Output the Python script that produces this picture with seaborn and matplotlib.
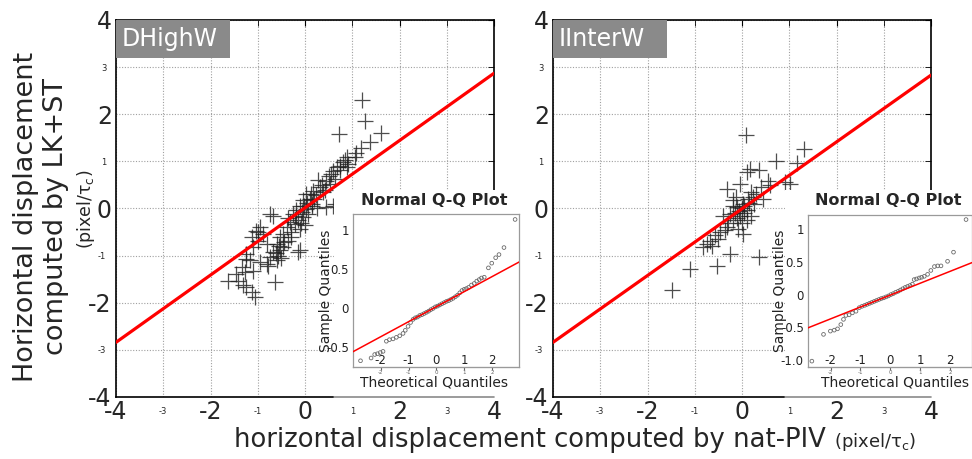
import numpy as np
import pandas as pd
import matplotlib
matplotlib.use('Agg')
import matplotlib.pyplot as plt
import seaborn as sns
from matplotlib.patches import Rectangle
from matplotlib.lines import Line2D

# ---------------- data ----------------
panel_names = ['DHighW', 'IInterW']

left_x = [1.21, 1.28, 1.60, 0.73, 1.37, 1.18, 1.07, 1.05, 0.84, 0.91, 0.74, 0.88, 0.88, 0.81, 0.67, 0.74,
          0.56, 0.63, 0.45, 0.52, 0.31, 0.17, 0.38, 0.03, 0.24, 0.10, -0.04, 0.14, -0.11, 0.03, -0.18, -0.07,
          -0.25, 0.07, -0.04, -0.15, -0.32, -0.22, -0.39, -0.11, -0.29, -0.46, -0.53, -0.36, -0.60, -0.46,
          -0.53, -0.67, -0.57, -0.74, -0.15, -0.60, -0.96, -0.74, -1.03, -0.89, -1.13, -0.99, -1.10, -1.24,
          -1.17, -0.96, -1.34, -1.27, -1.45, -1.63, -1.41, -1.31, -1.24, -1.13, -1.06, -0.64, -0.78, -0.81,
          -0.67, -0.99, -0.11, -1.10, -0.81, -1.24, 0.59, 0.45, 0.63,
          0.05, -0.02, 0.20, 0.35, 0.42, -0.08, -0.20, 0.12, 0.27, -0.30, -0.45, -0.55, 0.00, 0.15, 0.50,
          -0.62, -0.50, 0.60, 0.25, -0.35]
left_y = [2.31, 1.85, 1.61, 1.59, 1.42, 1.29, 1.17, 1.10, 1.02, 0.95, 0.91, 0.88, 1.09, 0.98, 0.88, 0.81,
          0.74, 0.63, 0.59, 0.52, 0.45, 0.38, 0.35, 0.31, 0.28, 0.21, 0.17, 0.10, 0.06, -0.01, -0.04, -0.08,
          -0.11, -0.11, -0.18, -0.25, -0.29, -0.33, -0.40, -0.43, -0.50, -0.54, -0.61, -0.68, -0.75, -0.82,
          -0.89, -0.93, -1.00, -1.03, -0.93, -1.10, -0.40, -0.11, -0.47, -0.54, -0.61, -0.68, -0.82, -0.96,
          -1.10, -1.14, -1.25, -1.35, -1.39, -1.53, -1.53, -1.63, -1.67, -1.78, -1.88, -1.56, -1.21, -0.75,
          -0.15, -0.50, -0.89, -1.32, -1.17, -1.07, 0.06, 0.03, 0.10,
          0.12, 0.05, 0.20, 0.50, 0.40, -0.30, -0.15, 0.30, 0.60, -0.60, -0.72, -0.80, -0.35, 0.05, 0.70,
          -0.95, -1.05, 0.80, 0.00, -0.20]

right_x = [0.08, 1.31, 0.71, 1.16, 0.17, 0.35, 0.10, 1.01, 0.91, 0.56, -0.32, -0.04, 0.45, 0.24, -0.18,
           0.03, -0.11, 0.10, -0.25, -0.04, -0.40, 0.10, -0.18, -0.32, -0.46, -0.57, -0.68, -0.75, -0.64,
           -0.82, -0.08, 0.03, -0.25, 0.35, -0.52, -1.10, -1.49,
           0.00, 0.05, -0.06, 0.15, -0.15, 0.20, -0.10, 0.30, 0.05, -0.20, 0.40, -0.30, 0.12, -0.50, 0.25,
           -0.35, 0.60, 0.00, -0.12, 0.18]
right_y = [1.55, 1.26, 1.00, 0.96, 0.84, 0.81, 0.77, 0.52, 0.56, 0.59, 0.42, 0.52, 0.21, 0.24, 0.17,
           0.10, 0.03, -0.04, -0.11, -0.15, -0.15, -0.25, -0.25, -0.40, -0.50, -0.57, -0.68, -0.75, -0.79,
           -0.82, -0.43, -0.54, -0.96, -1.03, -1.21, -1.28, -1.74,
           0.00, 0.05, -0.05, 0.12, -0.10, 0.35, -0.20, 0.30, -0.10, 0.05, 0.45, -0.30, 0.20, -0.65, 0.10,
           -0.45, 0.50, -0.30, 0.25, -0.15]

fit_x = [-4.0, 4.0]
left_fit_y = [-2.84, 2.87]
right_fit_y = [-2.84, 2.83]

main_major = [-4, -2, 0, 2, 4]
main_major_labels = ['-4', '-2', '0', '2', '4']
main_minor = [-3, -1, 1, 3]
main_minor_labels = ['-3', '-1', '1', '3']

# Q-Q insets: theoretical vs sample quantiles
qqL_t = [-2.73, -2.35, -2.22, -2.12, -2.02, -1.92, -1.80, -1.69, -1.56, -1.44, -1.32, -1.20, -1.12, -1.02,
         -0.93, -0.84, -0.76, -0.68, -0.60, -0.52, -0.44, -0.36, -0.28, -0.20, -0.12, -0.04, 0.04, 0.12,
         0.20, 0.28, 0.36, 0.44, 0.52, 0.60, 0.68, 0.76, 0.84, 0.92, 1.00, 1.08, 1.16, 1.26, 1.36, 1.45,
         1.54, 1.62, 1.72, 1.87, 1.99, 2.13, 2.25, 2.43, 2.83]
qqL_s = [-0.68, -0.645, -0.60, -0.59, -0.575, -0.56, -0.43, -0.41, -0.40, -0.38, -0.36, -0.33, -0.29, -0.24,
         -0.19, -0.15, -0.13, -0.12, -0.10, -0.09, -0.075, -0.06, -0.045, -0.025, -0.01, 0.01, 0.02, 0.035,
         0.05, 0.065, 0.08, 0.09, 0.105, 0.12, 0.14, 0.16, 0.19, 0.22, 0.235, 0.245, 0.26, 0.29, 0.31, 0.34,
         0.36, 0.38, 0.39, 0.51, 0.57, 0.64, 0.68, 0.77, 1.13]
qqL_line_x = [-3.0, 3.0]
qqL_line_y = [-0.564, 0.59]

qqR_t = [-2.63, -2.24, -2.01, -1.88, -1.77, -1.66, -1.57, -1.49, -1.38, -1.27, -1.15, -1.04, -0.95, -0.86,
         -0.78, -0.70, -0.62, -0.54, -0.46, -0.38, -0.30, -0.22, -0.14, -0.06, 0.02, 0.10, 0.18, 0.26, 0.34,
         0.42, 0.50, 0.58, 0.66, 0.74, 0.80, 0.88, 0.97, 1.05, 1.14, 1.25, 1.36, 1.48, 1.59, 1.70, 1.92,
         2.12, 2.54]
qqR_s = [-1.02, -0.61, -0.56, -0.545, -0.525, -0.46, -0.38, -0.32, -0.31, -0.28, -0.255, -0.20, -0.18,
         -0.165, -0.15, -0.135, -0.12, -0.105, -0.09, -0.075, -0.06, -0.05, -0.035, -0.02, 0.0, 0.015, 0.035,
         0.05, 0.07, 0.09, 0.11, 0.125, 0.14, 0.16, 0.23, 0.24, 0.255, 0.265, 0.28, 0.31, 0.37, 0.43, 0.44,
         0.44, 0.51, 0.65, 1.15]
qqR_line_x = [-2.76, 2.74]
qqR_line_y = [-0.51, 0.49]

qq_xticks = [-2, -1, 0, 1, 2]
qq_xlabels = ['-2', '-1', '0', '1', '2']
qqL_yticks = [-0.5, 0, 0.5, 1]
qqL_ylabels = ['-0.5', '0', '0.5', '1']
qqR_yticks = [-1.0, -0.5, 0, 0.5, 1]
qqR_ylabels = ['-1.0', '-0.5', '0', '0.5', '1']

# ---------------- style ----------------
sns.set_style('white')
plt.rcParams['font.family'] = ['DejaVu Sans']
plt.rcParams['axes.unicode_minus'] = False

W, H = 972, 459
fig = plt.figure(figsize=(W / 100, H / 100), dpi=100)


def fx(px):
    return px / W


def fy(py):
    return 1 - py / H


def main_panel(x0, name, xs, ys, fy_vals):
    ax = fig.add_axes([fx(x0), fy(397), 378 / W, 377 / H])
    ax.set_zorder(0)
    df = pd.DataFrame({'x': xs, 'y': ys})
    sns.scatterplot(data=df, x='x', y='y', marker='+', s=140, color='#222222',
                    linewidth=0.9, alpha=0.8, ax=ax, zorder=3, legend=False)
    sns.lineplot(x=fit_x, y=fy_vals, color='red', linewidth=2.3, ax=ax, zorder=4)
    ax.set_xlim(-4, 4)
    ax.set_ylim(-4, 4)
    ax.set_xticks(main_major)
    ax.set_xticklabels(main_major_labels)
    ax.set_xticks(main_minor, minor=True)
    ax.set_xticklabels(main_minor_labels, minor=True)
    ax.set_yticks(main_major)
    ax.set_yticklabels(main_major_labels)
    ax.set_yticks(main_minor, minor=True)
    ax.set_yticklabels(main_minor_labels, minor=True)
    ax.grid(True, which='both', linestyle=(0, (1, 1.5)), color='#a0a0a0', linewidth=0.8)
    ax.set_axisbelow(True)
    ax.tick_params(which='major', labelsize=17, direction='in', length=4, top=True, right=True,
                   pad=2, color='black')
    ax.tick_params(which='minor', labelsize=6, direction='in', length=4, top=True, right=True,
                   pad=7, color='black')
    ax.tick_params(axis='y', which='major', pad=3)
    for sp in ax.spines.values():
        sp.set_color('black')
        sp.set_linewidth(1.2)
    ax.set_xlabel('')
    ax.set_ylabel('')
    ax.add_patch(Rectangle((0, 1 - 38 / 377), 114 / 378, 38 / 377, transform=ax.transAxes,
                           facecolor='#8a8a8a', edgecolor='none', zorder=5, clip_on=False))
    ax.text(6 / 378, 1 - 19 / 377, name, transform=ax.transAxes, color='white', fontsize=17,
            ha='left', va='center', zorder=6)
    return ax


axL = main_panel(116, panel_names[0], left_x, left_y, left_fit_y)
axR = main_panel(553, panel_names[1], right_x, right_y, right_fit_y)

# white cover patches behind the insets
for (a, b, top, spine_end) in [(334, 519, 190, 494), (785, 972, 190, 931)]:
    fig.add_artist(Rectangle((fx(a), fy(399)), (b - a) / W, (399 - top) / H, transform=fig.transFigure,
                             facecolor='white', edgecolor='none', zorder=1))
    fig.add_artist(Line2D([fx(a), fx(spine_end)], [fy(397), fy(397)], transform=fig.transFigure,
                          color='#8a8a8a', linewidth=1.2, zorder=1.5))


def qq_inset(x0, x1, ytop, ybot, t, s, lx, ly, xlim, ylim, yticks, ylabels):
    ax = fig.add_axes([fx(x0), fy(ybot), (x1 - x0) / W, (ybot - ytop) / H])
    ax.set_zorder(2)
    ax.set_facecolor('white')
    sns.scatterplot(x=t, y=s, marker='o', s=7, linewidth=0.6, ax=ax, zorder=3)
    coll = ax.collections[-1]
    coll.set_facecolor('none')
    coll.set_edgecolor('#6a6a6a')
    sns.lineplot(x=lx, y=ly, color='red', linewidth=1.1, ax=ax, zorder=4)
    ax.set_xlim(xlim)
    ax.set_ylim(ylim)
    for sp in ax.spines.values():
        sp.set_color('#9a9a9a')
        sp.set_linewidth(0.9)
    ax.set_xticks(qq_xticks)
    ax.set_xticklabels(qq_xlabels)
    ax.set_yticks(yticks)
    ax.set_yticklabels(ylabels)
    ax.tick_params(axis='x', direction='in', length=0, pad=-9, labelsize=8.5, labelcolor='#222')
    ax.tick_params(axis='y', direction='out', length=1.5, pad=1.5, labelsize=8.5, labelcolor='#222',
                   color='#999')
    sec = ax.secondary_xaxis('bottom')
    sec.set_xticks(qq_xticks)
    sec.set_xticklabels(qq_xlabels)
    sec.tick_params(labelsize=4, length=2, pad=0.5, colors='#666')
    sec.spines['bottom'].set_color('#9a9a9a')
    ax.set_xlabel('')
    ax.set_ylabel('')
    return ax


qq_inset(353, 519, 214, 367, qqL_t, qqL_s, qqL_line_x, qqL_line_y, (-3.0, 2.97), (-0.76, 1.2),
         qqL_yticks, qqL_ylabels)
qq_inset(808, 972, 215, 367, qqR_t, qqR_s, qqR_line_x, qqR_line_y, (-2.76, 2.74), (-1.11, 1.22),
         qqR_yticks, qqR_ylabels)

for (cx, tq_x, sq_x) in [(434, 434, 326), (888, 895, 780)]:
    fig.text(fx(cx), fy(200), 'Normal Q-Q Plot', fontsize=11.5, fontweight='bold', ha='center',
             va='center', zorder=4)
    fig.text(fx(tq_x), fy(383), 'Theoretical Quantiles', fontsize=10, ha='center', va='center',
             color='#222', zorder=4)
    fig.text(fx(sq_x), fy(291), 'Sample Quantiles', fontsize=10, ha='center', va='center',
             rotation=90, color='#222', zorder=4)

# axis titles
fig.text(fx(41), fy(217), 'Horizontal displacement\ncomputed by LK+ST', rotation=90, ha='center',
         va='center', fontsize=19.5, linespacing=1.2)
fig.text(fx(86), fy(209), '(pixel/τ$_\\mathregular{c}$)', rotation=90, ha='center', va='center',
         fontsize=12.5)
fig.text(fx(234), fy(447), 'horizontal displacement computed by nat-PIV', ha='left', va='baseline',
         fontsize=18.6)
fig.text(fx(834), fy(447), '(pixel/τ$_\\mathregular{c}$)', ha='left', va='baseline', fontsize=13)

fig.savefig('out.png', dpi=100)
